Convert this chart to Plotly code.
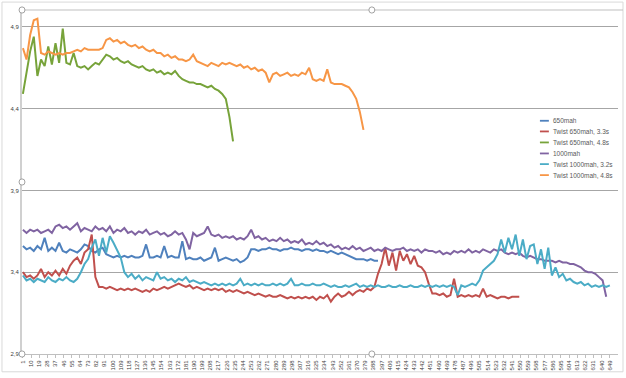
import plotly.graph_objects as go

# ---- data (values sampled every 4th category) ----
step = 4
names = ["650mah", "Twist 650mah, 3.3s", "Twist 650mah, 4.8s",
         "1000mah", "Twist 1000mah, 3.2s", "Twist 1000mah, 4.8s"]
colors = ["#4F81BD", "#C0504D", "#77A33A", "#8064A2", "#4BACC6", "#F79646"]

v650 = [3.56, 3.54, 3.55, 3.53, 3.56, 3.54, 3.61, 3.53, 3.55, 3.53,
        3.58, 3.53, 3.52, 3.54, 3.53, 3.52, 3.54, 3.57, 3.56, 3.53,
        3.52, 3.54, 3.55, 3.51, 3.50, 3.49, 3.50, 3.49, 3.50, 3.49,
        3.50, 3.49, 3.49, 3.50, 3.57, 3.49, 3.49, 3.50, 3.49, 3.56,
        3.49, 3.50, 3.49, 3.49, 3.59, 3.48, 3.49, 3.48, 3.48, 3.49,
        3.47, 3.48, 3.49, 3.55, 3.47, 3.48, 3.49, 3.48, 3.47, 3.48,
        3.46, 3.47, 3.49, 3.54, 3.54, 3.53, 3.54, 3.54, 3.55, 3.54,
        3.54, 3.53, 3.54, 3.54, 3.55, 3.54, 3.54, 3.53, 3.54, 3.54,
        3.53, 3.54, 3.53, 3.53, 3.52, 3.53, 3.52, 3.51, 3.52, 3.51,
        3.50, 3.49, 3.48, 3.48, 3.48, 3.47, 3.48, 3.47, 3.47]

vT650_33 = [3.40, 3.37, 3.38, 3.36, 3.38, 3.42, 3.37, 3.40, 3.38, 3.41,
            3.38, 3.42, 3.39, 3.44, 3.47, 3.49, 3.45, 3.52, 3.54, 3.63,
            3.37, 3.31, 3.31, 3.30, 3.31, 3.30, 3.29, 3.30, 3.29, 3.30,
            3.29, 3.30, 3.29, 3.28, 3.29, 3.28, 3.30, 3.29, 3.30, 3.31,
            3.30, 3.31, 3.32, 3.33, 3.32, 3.31, 3.32, 3.30, 3.31, 3.30,
            3.29, 3.30, 3.29, 3.30, 3.29, 3.30, 3.28, 3.29, 3.28, 3.29,
            3.28, 3.27, 3.28, 3.27, 3.26, 3.27, 3.26, 3.25, 3.26, 3.25,
            3.25, 3.26, 3.25, 3.24, 3.25, 3.24, 3.25, 3.24, 3.25, 3.24,
            3.25, 3.23, 3.25, 3.24, 3.26, 3.22, 3.25, 3.27, 3.25, 3.26,
            3.28, 3.26, 3.28, 3.29, 3.28, 3.30, 3.29, 3.31, 3.39, 3.45,
            3.55, 3.44, 3.52, 3.41, 3.53, 3.47, 3.51, 3.45, 3.50, 3.44,
            3.43, 3.40, 3.33, 3.27, 3.27, 3.26, 3.27, 3.25, 3.26, 3.36,
            3.25, 3.26, 3.25, 3.26, 3.25, 3.26, 3.25, 3.30, 3.25, 3.26,
            3.25, 3.24, 3.25, 3.25, 3.24, 3.25, 3.25, 3.25]

vT650_48 = [4.49, 4.62, 4.75, 4.84, 4.60, 4.70, 4.66, 4.78, 4.67, 4.80,
            4.68, 4.89, 4.68, 4.67, 4.74, 4.66, 4.65, 4.66, 4.64, 4.66,
            4.68, 4.67, 4.70, 4.73, 4.72, 4.70, 4.71, 4.69, 4.68, 4.69,
            4.67, 4.66, 4.65, 4.66, 4.64, 4.63, 4.64, 4.62, 4.63, 4.61,
            4.62, 4.61, 4.63, 4.60, 4.58, 4.57, 4.56, 4.56, 4.55, 4.55,
            4.54, 4.53, 4.54, 4.52, 4.51, 4.49, 4.46, 4.35, 4.20]

v1000 = [3.66, 3.64, 3.66, 3.65, 3.66, 3.64, 3.65, 3.66, 3.64, 3.68,
         3.69, 3.67, 3.68, 3.66, 3.68, 3.70, 3.65, 3.67, 3.66, 3.65,
         3.68, 3.66, 3.67, 3.65, 3.68, 3.64, 3.66, 3.65, 3.67, 3.64,
         3.65, 3.63, 3.65, 3.64, 3.66, 3.63, 3.64, 3.65, 3.63, 3.64,
         3.62, 3.63, 3.65, 3.63, 3.64, 3.60, 3.54, 3.64, 3.62, 3.63,
         3.64, 3.68, 3.63, 3.62, 3.63, 3.61, 3.62, 3.61, 3.62, 3.60,
         3.61, 3.60, 3.62, 3.66, 3.61, 3.62, 3.60, 3.61, 3.59, 3.60,
         3.59, 3.61, 3.59, 3.60, 3.58, 3.59, 3.58, 3.60, 3.57, 3.58,
         3.57, 3.59, 3.57, 3.58, 3.56, 3.57, 3.55, 3.56, 3.54, 3.55,
         3.54, 3.56, 3.54, 3.55, 3.53, 3.54, 3.55, 3.53, 3.54, 3.53,
         3.55, 3.54, 3.53, 3.54, 3.54, 3.55, 3.53, 3.54, 3.53, 3.54,
         3.52, 3.54, 3.53, 3.53, 3.52, 3.53, 3.51, 3.52, 3.51, 3.53,
         3.52, 3.53, 3.52, 3.54, 3.52, 3.53, 3.52, 3.54, 3.53, 3.52,
         3.54, 3.53, 3.54, 3.52, 3.51, 3.52, 3.51, 3.52, 3.50, 3.49,
         3.50, 3.49, 3.48, 3.48, 3.47, 3.47, 3.47, 3.46, 3.47, 3.46,
         3.46, 3.45, 3.45, 3.44, 3.43, 3.41, 3.40, 3.40, 3.39, 3.37,
         3.35, 3.25]

vT1000_32 = [3.38, 3.35, 3.36, 3.34, 3.36, 3.35, 3.34, 3.37, 3.35, 3.34,
             3.36, 3.35, 3.37, 3.35, 3.34, 3.36, 3.40, 3.45, 3.48, 3.55,
             3.60, 3.50, 3.61, 3.52, 3.62, 3.58, 3.53, 3.49, 3.40, 3.37,
             3.39, 3.36, 3.38, 3.35, 3.37, 3.36, 3.35, 3.40, 3.36, 3.37,
             3.35, 3.36, 3.34, 3.36, 3.35, 3.37, 3.34, 3.35, 3.34, 3.33,
             3.34, 3.33, 3.32, 3.33, 3.32, 3.33, 3.32, 3.33, 3.32, 3.33,
             3.36, 3.32, 3.33, 3.32, 3.33, 3.32, 3.33, 3.32, 3.32, 3.33,
             3.32, 3.33, 3.32, 3.33, 3.36, 3.32, 3.32, 3.33, 3.32, 3.32,
             3.33, 3.32, 3.32, 3.33, 3.32, 3.31, 3.32, 3.31, 3.31, 3.32,
             3.31, 3.32, 3.33, 3.31, 3.32, 3.31, 3.32, 3.31, 3.32, 3.31,
             3.31, 3.32, 3.31, 3.31, 3.32, 3.31, 3.31, 3.32, 3.31, 3.31,
             3.32, 3.31, 3.32, 3.31, 3.32, 3.31, 3.32, 3.31, 3.32, 3.31,
             3.26, 3.32, 3.31, 3.32, 3.33, 3.32, 3.35, 3.41, 3.43, 3.45,
             3.47, 3.51, 3.60, 3.52, 3.61, 3.54, 3.63, 3.50, 3.60, 3.48,
             3.56, 3.57, 3.45, 3.54, 3.42, 3.55, 3.38, 3.43, 3.37, 3.39,
             3.35, 3.36, 3.34, 3.33, 3.34, 3.32, 3.33, 3.31, 3.32, 3.31,
             3.32, 3.31, 3.32]

vT1000_48 = [4.77, 4.70, 4.85, 4.94, 4.95, 4.74, 4.73, 4.75, 4.74, 4.73,
             4.74, 4.73, 4.74, 4.74, 4.75, 4.76, 4.75, 4.77, 4.76, 4.76,
             4.76, 4.76, 4.77, 4.82, 4.83, 4.81, 4.82, 4.80, 4.81, 4.79,
             4.78, 4.79, 4.77, 4.78, 4.76, 4.75, 4.76, 4.74, 4.74, 4.72,
             4.73, 4.71, 4.72, 4.70, 4.70, 4.69, 4.70, 4.73, 4.69, 4.68,
             4.67, 4.66, 4.68, 4.67, 4.66, 4.68, 4.67, 4.68, 4.67, 4.66,
             4.67, 4.65, 4.66, 4.64, 4.65, 4.63, 4.64, 4.62, 4.56, 4.61,
             4.62, 4.60, 4.61, 4.62, 4.60, 4.61, 4.60, 4.62, 4.61, 4.65,
             4.58, 4.57, 4.58, 4.57, 4.64, 4.56, 4.55, 4.55, 4.55, 4.54,
             4.53, 4.50, 4.46, 4.38, 4.27]

series = [v650, vT650_33, vT650_48, v1000, vT1000_32, vT1000_48]

x_ticks = list(range(1, 650, 9))
y_ticks = [2.9, 3.4, 3.9, 4.4, 4.9]
y_labels = ["2,9", "3,4", "3,9", "4,4", "4,9"]

fig = go.Figure()
for name, col, vals in zip(names, colors, series):
    xs = list(range(1, 1 + step * len(vals), step))
    fig.add_trace(go.Scatter(x=xs, y=vals, mode="lines", name=name,
                             line=dict(color=col, width=2), showlegend=False))

font = dict(family="Liberation Sans, Arial, sans-serif", size=6, color="#595959")

fig.update_layout(
    width=626, height=378,
    margin=dict(l=22, r=8, t=10, b=20),
    paper_bgcolor="white", plot_bgcolor="white",
    font=font,
    showlegend=False,
    xaxis=dict(range=[0, 658], tickmode="array", tickvals=x_ticks,
               ticktext=[str(v) for v in x_ticks], tickangle=-90,
               showgrid=False, zeroline=False, showline=True,
               linecolor="#bfbfbf", linewidth=1, ticks="outside",
               ticklen=3, tickcolor="#bfbfbf",
               tickfont=dict(size=6, color="#404040")),
    yaxis=dict(range=[2.9, 5.003], tickmode="array", tickvals=y_ticks,
               ticktext=y_labels, showgrid=True, gridcolor="#a6a6a6",
               gridwidth=1, zeroline=False, showline=True,
               linecolor="#d0d0d0", linewidth=2, ticks="",
               tickfont=dict(size=6, color="#404040")),
)

# Legend (Excel-style, compact), placed inside the plot area at right
leg_y = [0.678, 0.647, 0.615, 0.583, 0.552, 0.520]
for name, col, ly in zip(names, colors, leg_y):
    fig.add_shape(type="line", xref="paper", yref="paper",
                  x0=0.869, x1=0.884, y0=ly, y1=ly,
                  line=dict(color=col, width=1.8))
    fig.add_annotation(xref="paper", yref="paper", x=0.888, y=ly,
                       text=name, showarrow=False, xanchor="left",
                       yanchor="middle", font=dict(size=6.5, color="#595959"))

# Plot-area top edge
fig.add_shape(type="line", xref="paper", yref="paper", x0=0, x1=1.0084,
              y0=1, y1=1, line=dict(color="#bfbfbf", width=1))

# Excel-like plot-area selection handles and chart border
for hx, hy in [(0, 1), (0, 0.5), (0, 0), (0.587, 1), (0.587, 0)]:
    fig.add_shape(type="circle", xref="paper", yref="paper",
                  x0=hx - 0.005, x1=hx + 0.005, y0=hy - 0.009, y1=hy + 0.009,
                  line=dict(color="#8c8c8c", width=0.8), fillcolor="white")
fig.add_shape(type="rect", xref="paper", yref="paper",
              x0=-0.0336, x1=1.0084, y0=-0.0517, y1=1.023,
              line=dict(color="#d9d9d9", width=1), fillcolor="rgba(0,0,0,0)",
              layer="below")

fig.write_html("out.html", config={"displayModeBar": False},
               post_script="document.body.style.margin='0px';")
